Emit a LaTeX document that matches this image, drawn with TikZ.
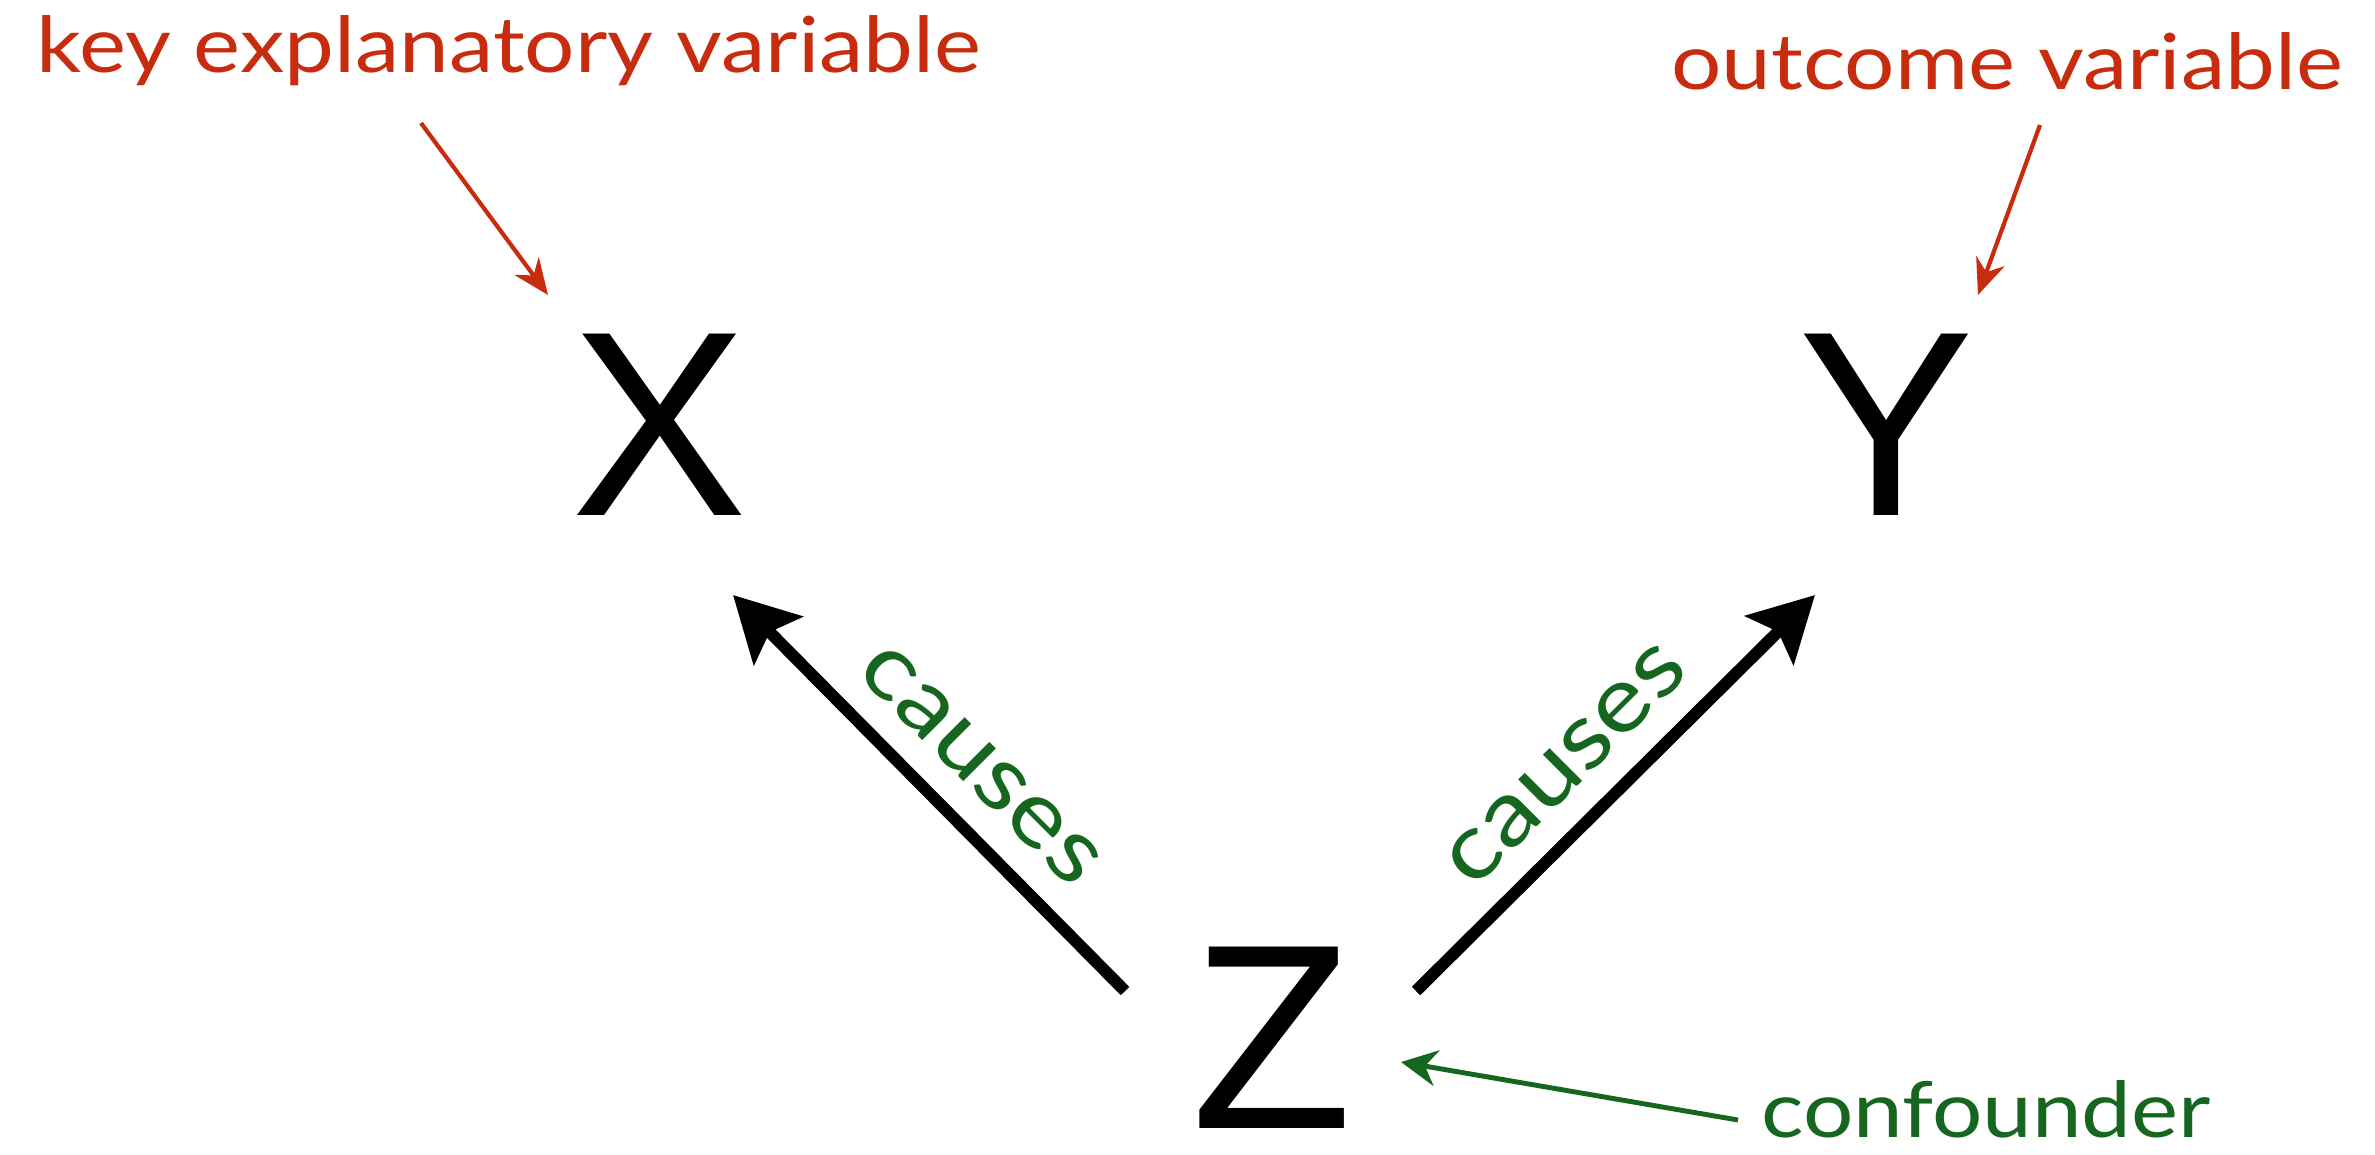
\documentclass[tikz,border=0pt]{standalone}
\usepackage{fontspec}
\setmainfont{Liberation Sans}
\newfontfamily\hand{Lato}[FakeStretch=1.15]
\usetikzlibrary{arrows.meta}
\definecolor{annred}{HTML}{C72C0E}
\definecolor{anngreen}{HTML}{16661F}
\tikzset{
  var/.style={inner sep=0pt, font=\fontsize{75}{75}\selectfont},
  redlabel/.style={inner sep=0pt, anchor=base, text=annred, font=\hand\fontsize{22}{22}\selectfont},
  greenlabel/.style={inner sep=0pt, anchor=base, text=anngreen, font=\hand\fontsize{22}{22}\selectfont},
  causelabel/.style={inner sep=0pt, text=anngreen, font=\hand\fontsize{26}{26}\selectfont},
  bigarrow/.style={line width=3.4pt, -{Stealth[length=0.64cm, width=0.68cm, inset=0.12cm]}},
  redarrow/.style={draw=annred, line width=1.2pt, -{Stealth[length=0.36cm, width=0.30cm]}},
  greenarrow/.style={draw=anngreen, line width=1.4pt, -{Stealth[length=0.36cm, width=0.36cm]}}
}
\begin{document}
\begin{tikzpicture}[x=0.01cm,y=-0.01cm]
\useasboundingbox (0,0) rectangle (2375,1154);
\node[var] (X) at (659,425) {X};
\node[var] (Y) at (1886,425) {Y};
\node[var] (Z) at (1272,1038) {Z};
% main arrows
\coordinate (zl) at (1125,991);
\coordinate (zr) at (1416,991);
\coordinate (xt) at (733,595);
\coordinate (yt) at (1815,595);
\draw[bigarrow] (zl) -- (xt);
\draw[bigarrow] (zr) -- (yt);
\node[causelabel, rotate=-45] (c1) at (980,765) {causes};
\node[causelabel, rotate=45] (c2) at (1566,765) {causes};
% annotations
\node[redlabel] (key) at (509,72) {key explanatory variable};
\node[redlabel] (out) at (2007,89) {outcome variable};
\node[greenlabel] (conf) at (1986,1137) {confounder};
\coordinate (keytail) at (421,123);
\coordinate (keytip) at (548,295);
\coordinate (outtail) at (2040,125);
\coordinate (outtip) at (1978,295);
\coordinate (conftail) at (1738,1120);
\coordinate (conftip) at (1401,1062);
\draw[redarrow] (keytail) -- (keytip);
\draw[redarrow] (outtail) -- (outtip);
\draw[greenarrow] (conftail) -- (conftip);
\end{tikzpicture}
\end{document}
